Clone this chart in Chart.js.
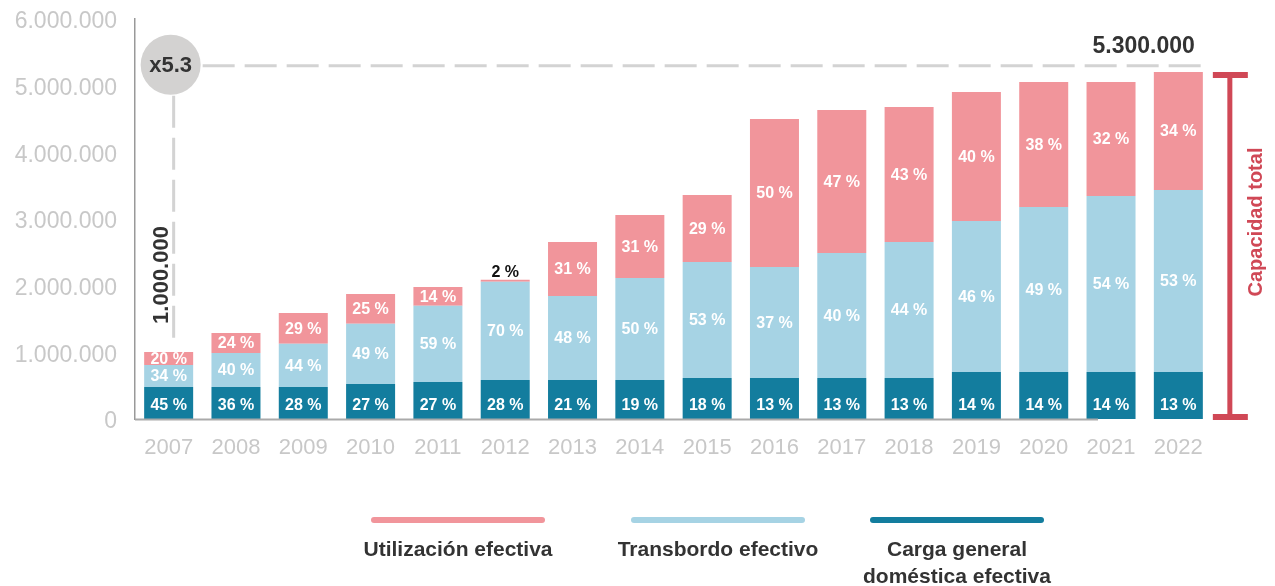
<!DOCTYPE html>
<html>
<head>
<meta charset="utf-8">
<script src="https://cdn.jsdelivr.net/npm/chart.js@4.4.1/dist/chart.umd.min.js"></script>
<style>
html,body{margin:0;padding:0;background:#fff;}
#wrap{width:1275px;height:586px;position:relative;}
</style>
</head>
<body>
<div id="wrap"><canvas id="c" width="1275" height="586"></canvas></div>
<script>
// ---- DATA ----
const years = ['2007','2008','2009','2010','2011','2012','2013','2014','2015','2016','2017','2018','2019','2020','2021','2022'];
const domestica = [480000,480000,480000,525000,555000,585000,585000,585000,615000,615000,615000,615000,705000,705000,705000,705000];
const transbordo = [330000,510000,650000,905000,1145000,1475000,1260000,1530000,1740000,1665000,1875000,2040000,2265000,2475000,2640000,2730000];
const utilizacion = [195000,300000,460000,445000,280000,30000,810000,945000,1005000,2220000,2145000,2025000,1935000,1875000,1710000,1770000];
const pctDomestica = [45,36,28,27,27,28,21,19,18,13,13,13,14,14,14,13];
const pctTransbordo = [34,40,44,49,59,70,48,50,53,37,40,44,46,49,54,53];
const pctUtilizacion = [20,24,29,25,14,2,31,31,29,50,47,43,40,38,32,34];
const yTicks = [0,1000000,2000000,3000000,4000000,5000000,6000000];
const legendLabels = [['Utilización efectiva'],['Transbordo efectivo'],['Carga general','doméstica efectiva']];
const seriesNames = ['Carga general doméstica efectiva','Transbordo efectivo','Utilización efectiva'];
const totalCapacity = 5300000;
const baseCapacity = 1000000;
const multiplierLabel = 'x5.3';
const capLabel = 'Capacidad total';

const C_DARK = '#137D9E', C_LIGHT = '#A6D3E4', C_PINK = '#F1959B', C_RED = '#D04856';
const fmt = v => String(v).replace(/\B(?=(\d{3})+(?!\d))/g, '.');

const pcts = [pctDomestica, pctTransbordo, pctUtilizacion];

const labelsPlugin = {
  id: 'labelsPlugin',
  afterDatasetsDraw(chart) {
    const ctx = chart.ctx;
    ctx.save();
    ctx.textAlign = 'center';
    ctx.textBaseline = 'middle';
    ctx.font = 'bold 16px "Liberation Sans", Arial, sans-serif';
    chart.data.datasets.forEach((ds, di) => {
      const meta = chart.getDatasetMeta(di);
      meta.data.forEach((bar, i) => {
        const txt = pcts[di][i] + ' %';
        const h = bar.base - bar.y;
        let ty;
        if (di === 0) ty = bar.base - 13;
        else ty = (bar.y + bar.base) / 2 + 1;
        if (h < 12) {
          ctx.fillStyle = '#111';
          ctx.fillText(txt, bar.x, bar.y - 7);
        } else {
          ctx.fillStyle = '#fff';
          ctx.fillText(txt, bar.x, ty);
        }
      });
    });
    ctx.restore();
  }
};

const annotPlugin = {
  id: 'annotPlugin',
  beforeDatasetsDraw(chart) {
    const ctx = chart.ctx, xs = chart.scales.x, ys = chart.scales.y;
    const x0 = xs.getPixelForValue(0);
    const yTop = ys.getPixelForValue(totalCapacity);
    const yBase = ys.getPixelForValue(baseCapacity);
    const lastMeta = chart.getDatasetMeta(2).data[years.length - 1];
    const cx = x0 + 2, r = 30;
    ctx.save();
    ctx.strokeStyle = '#d3d3d3';
    ctx.lineWidth = 3;
    ctx.setLineDash([32, 10]);
    ctx.beginPath();
    ctx.moveTo(cx + r + 2, yTop);
    ctx.lineTo(lastMeta.x + lastMeta.width / 2, yTop);
    ctx.stroke();
    ctx.beginPath();
    ctx.moveTo(x0 + 5, yTop + r);
    ctx.lineTo(x0 + 5, yBase - 6);
    ctx.stroke();
    ctx.restore();
  },
  afterDraw(chart) {
    const ctx = chart.ctx, xs = chart.scales.x, ys = chart.scales.y;
    const area = chart.chartArea;
    const x0 = xs.getPixelForValue(0);
    const yTop = ys.getPixelForValue(totalCapacity);
    const cx = x0 + 2, r = 30;
    ctx.save();
    ctx.strokeStyle = '#aaaaaa';
    ctx.lineWidth = 2;
    ctx.beginPath();
    ctx.moveTo(area.left, area.bottom + 0.5);
    ctx.lineTo(xs.getPixelForValue(14) - 13, area.bottom + 0.5);
    ctx.stroke();
    ctx.fillStyle = '#d3d2d1';
    ctx.beginPath();
    ctx.arc(cx, yTop - 1, r, 0, Math.PI * 2);
    ctx.fill();
    ctx.fillStyle = '#333';
    ctx.font = 'bold 22px "Liberation Sans", Arial, sans-serif';
    ctx.textAlign = 'center';
    ctx.textBaseline = 'middle';
    ctx.fillText(multiplierLabel, cx, yTop);
    const lastBar = chart.getDatasetMeta(2).data[years.length - 1];
    ctx.textAlign = 'right';
    ctx.font = 'bold 23px "Liberation Sans", Arial, sans-serif';
    ctx.fillText(fmt(totalCapacity), lastBar.x + lastBar.width / 2 - 8, yTop - 19);
    ctx.save();
    ctx.translate(x0 - 7, ys.getPixelForValue(2160000));
    ctx.rotate(-Math.PI / 2);
    ctx.textAlign = 'center';
    ctx.font = 'bold 22px "Liberation Sans", Arial, sans-serif';
    ctx.fillText(fmt(baseCapacity), 0, 0);
    ctx.restore();
    const bx = lastBar.x + 51.5;
    const byTop = lastBar.y + 3, byBot = area.bottom - 2;
    ctx.fillStyle = C_RED;
    ctx.fillRect(bx - 2.5, byTop, 5, byBot - byTop);
    ctx.fillRect(bx - 17, byTop - 3, 35, 6);
    ctx.fillRect(bx - 17, byBot - 3, 35, 6);
    ctx.save();
    ctx.translate(bx + 27, (byTop + byBot) / 2 - 24);
    ctx.rotate(-Math.PI / 2);
    ctx.textAlign = 'center';
    ctx.textBaseline = 'middle';
    ctx.font = 'bold 20px "Liberation Sans", Arial, sans-serif';
    ctx.fillText(capLabel, 0, 0);
    ctx.restore();
    const cols = [C_PINK, C_LIGHT, C_DARK];
    const centers = [458, 718, 957];
    ctx.lineCap = 'round';
    ctx.lineWidth = 6;
    cols.forEach((c, k) => {
      ctx.strokeStyle = c;
      ctx.beginPath();
      ctx.moveTo(centers[k] - 84, 520);
      ctx.lineTo(centers[k] + 84, 520);
      ctx.stroke();
      ctx.fillStyle = '#333';
      ctx.textAlign = 'center';
      ctx.textBaseline = 'middle';
      ctx.font = 'bold 21px "Liberation Sans", Arial, sans-serif';
      legendLabels[k].forEach((ln, j) => ctx.fillText(ln, centers[k], 550 + j * 27));
    });
    ctx.restore();
  }
};

new Chart(document.getElementById('c'), {
  type: 'bar',
  data: {
    labels: years,
    datasets: [
      { label: seriesNames[0], data: domestica, backgroundColor: C_DARK },
      { label: seriesNames[1], data: transbordo, backgroundColor: C_LIGHT },
      { label: seriesNames[2], data: utilizacion, backgroundColor: C_PINK }
    ]
  },
  options: {
    responsive: false,
    devicePixelRatio: 1,
    animation: false,
    layout: { padding: { left: 0, right: 63, top: 19, bottom: 0 } },
    datasets: { bar: { barPercentage: 0.728, categoryPercentage: 1.0, borderWidth: 0 } },
    plugins: { legend: { display: false }, tooltip: { enabled: false } },
    scales: {
      x: {
        stacked: true,
        grid: { display: false, drawTicks: false },
        border: { display: false },
        ticks: { color: '#c8c8c8', font: { family: '"Liberation Sans", Arial, sans-serif', size: 22 }, padding: 16, maxRotation: 0 },
        afterFit(s) { s.height = 167; s.paddingLeft = 0; s.paddingRight = 0; }
      },
      y: {
        stacked: true,
        min: 0, max: 6000000,
        afterBuildTicks(s) { s.ticks = yTicks.map(v => ({ value: v })); },
        grid: { display: false, drawTicks: false },
        border: { display: true, color: '#999999', width: 1.5 },
        ticks: { color: '#c8c8c8', font: { family: '"Liberation Sans", Arial, sans-serif', size: 23 }, padding: 18, labelOffset: 3, callback: v => fmt(v) },
        afterFit(s) { s.width = 135; s.paddingTop = 0; s.paddingBottom = 0; }
      }
    }
  },
  plugins: [annotPlugin, labelsPlugin]
});
</script>
</body>
</html>
